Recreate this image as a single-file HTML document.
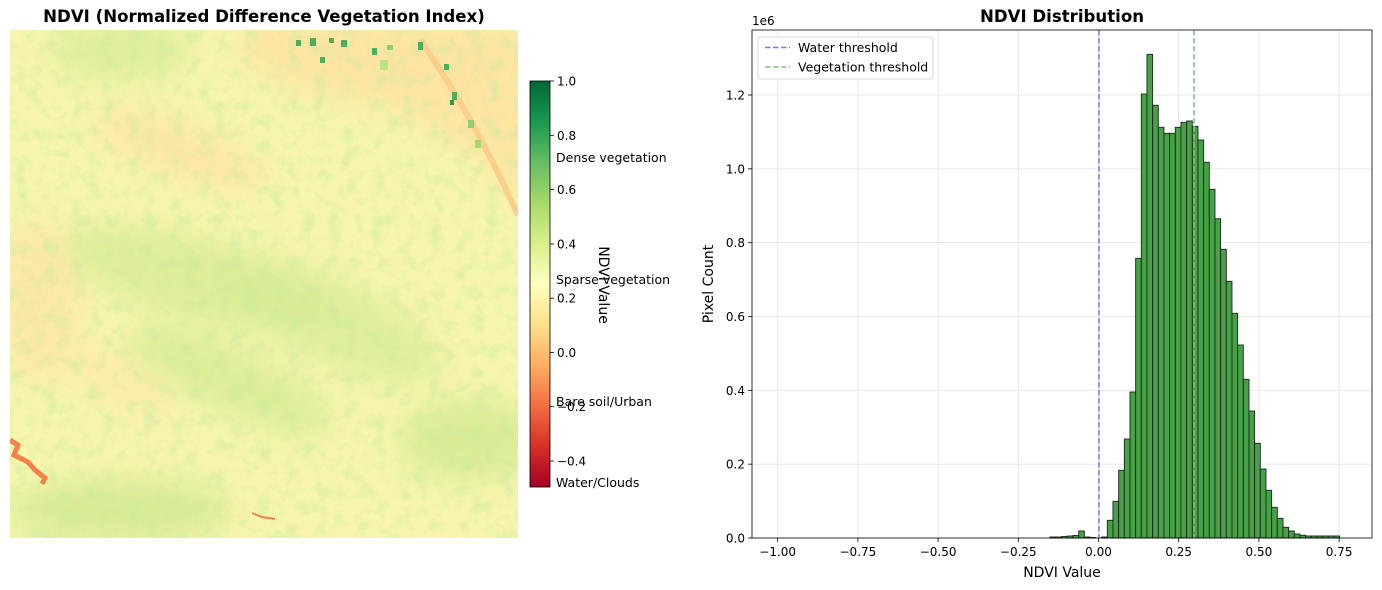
<!DOCTYPE html>
<html><head><meta charset="utf-8"><style>
html,body{margin:0;padding:0;background:#fff;}
svg{display:block;font-family:"DejaVu Sans","Liberation Sans",sans-serif;}
</style></head><body>
<svg id="s" width="1382" height="590" viewBox="0 0 1382 590" xmlns="http://www.w3.org/2000/svg">
<defs>
<filter id="blur8" x="-50%" y="-50%" width="200%" height="200%"><feGaussianBlur stdDeviation="14"/></filter>
<filter id="noise" x="0" y="0" width="100%" height="100%">
<feTurbulence type="fractalNoise" baseFrequency="0.07" numOctaves="3" seed="4"/>
<feColorMatrix type="matrix" values="0 0 0 0 0.55  0 0 0 0 0.82  0 0 0 0 0.35  0 0 0 1.6 -0.75"/>
</filter>
<linearGradient id="cb" x1="0" y1="1" x2="0" y2="0">
<stop offset="0" stop-color="#a50026"/><stop offset="0.1" stop-color="#d73027"/><stop offset="0.2" stop-color="#f46d43"/><stop offset="0.3" stop-color="#fdae61"/><stop offset="0.4" stop-color="#fee08b"/><stop offset="0.5" stop-color="#ffffbf"/><stop offset="0.6" stop-color="#d9ef8b"/><stop offset="0.7" stop-color="#a6d96a"/><stop offset="0.8" stop-color="#66bd63"/><stop offset="0.9" stop-color="#1a9850"/><stop offset="1" stop-color="#006837"/>
</linearGradient>
<clipPath id="mc"><rect x="10" y="30" width="508" height="508"/></clipPath>
</defs>
<text x="264" y="22" text-anchor="middle" font-size="16.6" font-weight="bold">NDVI (Normalized Difference Vegetation Index)</text>
<g clip-path="url(#mc)">
<rect x="10" y="30" width="508" height="508" fill="#f7f5ae"/>
<g filter="url(#blur8)">
<polygon points="250,20 530,20 530,210 470,150 400,110 300,90 240,60" fill="#fde4a2"/>
<ellipse cx="180" cy="150" rx="90" ry="25" fill="#fde6a6" transform="rotate(20 180 150)"/>
<ellipse cx="40" cy="300" rx="40" ry="80" fill="#fde2a4" opacity="0.7"/>
<ellipse cx="200" cy="280" rx="140" ry="40" fill="#d3ea90" transform="rotate(15 200 280)" opacity="0.7"/>
<ellipse cx="330" cy="320" rx="120" ry="40" fill="#d6eb93" transform="rotate(25 330 320)" opacity="0.7"/>
<ellipse cx="230" cy="380" rx="110" ry="30" fill="#d0e98d" transform="rotate(25 230 380)" opacity="0.7"/>
<ellipse cx="120" cy="510" rx="110" ry="30" fill="#cbe789" opacity="0.7"/>
<ellipse cx="470" cy="440" rx="70" ry="40" fill="#cfe88c" opacity="0.7"/>
<ellipse cx="120" cy="50" rx="70" ry="30" fill="#d6eb93" opacity="0.7"/>
<ellipse cx="120" cy="380" rx="60" ry="25" fill="#fde6a6" transform="rotate(30 120 380)" opacity="0.6"/>
</g>
<rect x="10" y="30" width="508" height="508" filter="url(#noise)" opacity="0.8"/>
<path d="M420,40 Q470,110 518,215" stroke="#fbcf8a" stroke-width="6" fill="none"/>
<path d="M10,440 L18,445 L14,455 L28,462 L35,470 L45,478 L42,484" stroke="#f5814a" stroke-width="5" fill="none"/>
<path d="M252,513 L262,517 L275,519" stroke="#f5814a" stroke-width="2" fill="none"/>
<g fill="#4caf5a">
<rect x="310" y="38" width="6" height="8"/><rect x="296" y="40" width="5" height="6"/><rect x="341" y="40" width="6" height="7"/><rect x="329" y="38" width="5" height="5"/><rect x="372" y="48" width="5" height="7"/><rect x="418" y="42" width="5" height="8"/><rect x="444" y="64" width="5" height="6"/><rect x="452" y="92" width="5" height="8"/><rect x="450" y="100" width="4" height="5" fill="#2e9a4c"/><rect x="320" y="57" width="5" height="6"/><rect x="387" y="45" width="6" height="5" fill="#8fcf72"/><rect x="468" y="120" width="6" height="8" fill="#8fcf72"/><rect x="475" y="140" width="6" height="8" fill="#a6d96a"/><rect x="380" y="60" width="8" height="10" fill="#bde383"/>
</g>
</g>
<rect x="530" y="81" width="20" height="406" fill="url(#cb)" stroke="#000" stroke-width="0.8"/>
<g stroke="#000" stroke-width="0.8">
<line x1="550" y1="81" x2="554" y2="81"/><line x1="550" y1="135.3" x2="554" y2="135.3"/><line x1="550" y1="189.6" x2="554" y2="189.6"/><line x1="550" y1="243.9" x2="554" y2="243.9"/><line x1="550" y1="298.1" x2="554" y2="298.1"/><line x1="550" y1="352.4" x2="554" y2="352.4"/><line x1="550" y1="406.7" x2="554" y2="406.7"/><line x1="550" y1="461" x2="554" y2="461"/>
</g>
<g font-size="12" fill="#000">
<text x="557" y="85.5">1.0</text><text x="557" y="139.8">0.8</text><text x="557" y="194.1">0.6</text><text x="557" y="248.4">0.4</text><text x="557" y="302.6">0.2</text><text x="557" y="356.9">0.0</text><text x="557" y="411.2">−0.2</text><text x="557" y="465.5">−0.4</text>
<g font-size="12.5"><text x="556" y="162">Dense vegetation</text><text x="556" y="284">Sparse vegetation</text><text x="556" y="406">Bare soil/Urban</text><text x="556" y="487">Water/Clouds</text></g>
<text transform="translate(599,285) rotate(90)" text-anchor="middle" font-size="14">NDVI Value</text>
</g>
<text x="1062" y="22" text-anchor="middle" font-size="16.6" font-weight="bold">NDVI Distribution</text>
<g id="grid" stroke="#e3e3e3" stroke-width="0.8"></g>
<g id="bars" fill="#45a245" stroke="#222" stroke-width="0.9"></g>
<line x1="1099" y1="30" x2="1099" y2="538" stroke="#7575ff" stroke-width="1.5" stroke-dasharray="5.5,2.5"/>
<line x1="1194" y1="30" x2="1194" y2="538" stroke="#7cc47c" stroke-width="1.5" stroke-dasharray="5.5,2.5"/>
<rect x="752" y="30" width="620" height="508" fill="none" stroke="#000" stroke-width="0.8"/>
<g id="ax" font-size="12" fill="#000"></g>
<text x="752" y="25" font-size="12">1e6</text>
<text x="1062" y="577" text-anchor="middle" font-size="14">NDVI Value</text>
<text transform="translate(713,284) rotate(-90)" text-anchor="middle" font-size="14">Pixel Count</text>
<rect x="758" y="37" width="175" height="42" rx="3" fill="#fff" fill-opacity="0.85" stroke="#ccc" stroke-width="0.8"/>
<line x1="765" y1="47.5" x2="790" y2="47.5" stroke="#7575ff" stroke-width="1.5" stroke-dasharray="5.5,2.5"/>
<line x1="765" y1="67" x2="790" y2="67" stroke="#7cc47c" stroke-width="1.5" stroke-dasharray="5.5,2.5"/>
<text x="798" y="52" font-size="12.5">Water threshold</text>
<text x="798" y="71.5" font-size="12.5">Vegetation threshold</text>
</svg>
<script>
var NS="http://www.w3.org/2000/svg";
function el(p,t,a,txt){var e=document.createElementNS(NS,t);for(var k in a)e.setAttribute(k,a[k]);if(txt!==undefined)e.textContent=txt;document.getElementById(p).appendChild(e);}
var x0=1098.5,su=320.8;
var xl=["−1.00","−0.75","−0.50","−0.25","0.00","0.25","0.50","0.75"];
for(var i=0;i<8;i++){var v=-1+i*0.25,x=x0+v*su;
el("grid","line",{x1:x,y1:30,x2:x,y2:538});
el("ax","line",{x1:x,y1:538,x2:x,y2:542,stroke:"#000","stroke-width":0.8});
el("ax","text",{x:x,y:556,"text-anchor":"middle"},xl[i]);}
for(var j=0;j<=6;j++){var y=538-j*73.83;
el("grid","line",{x1:752,y1:y,x2:1372,y2:y});
el("ax","line",{x1:748,y1:y,x2:752,y2:y,stroke:"#000","stroke-width":0.8});
el("ax","text",{x:745,y:y+4.5,"text-anchor":"end"},(j*0.2).toFixed(1));}
var tops=[520.3,501.3,470.3,439,392,258.3,94,54.3,105.3,127.3,133.3,133.3,127.3,122.3,121,126.3,140,162.3,189.3,218.7,249.3,281.3,313.3,345,379.3,411,443.3,469,490.3,507.3,518.3,527.3,531,534,535.3,536,536,536,536,536,536];
var w=5.667;
var left=[[1050,537],[1056,537],[1061.7,536.5],[1067.3,536],[1073,535.5],[1078.7,531],[1084.3,537],[1090,537.5],[1101.7,537]];
left.forEach(function(b){el("bars","rect",{x:b[0],y:b[1],width:w,height:538-b[1]});});
for(var i=0;i<tops.length;i++){el("bars","rect",{x:1107.3+i*w,y:tops[i],width:w,height:538-tops[i]});}
</script>
</body></html>
